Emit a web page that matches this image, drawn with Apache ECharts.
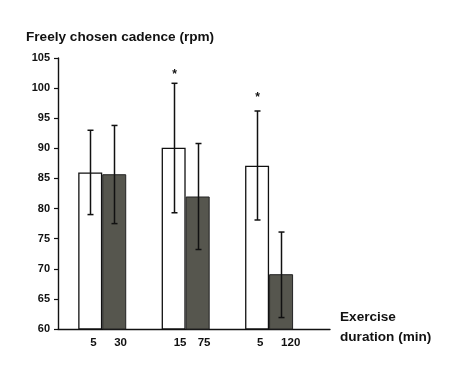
<!DOCTYPE html>
<html><head><meta charset="utf-8">
<script src="https://cdn.jsdelivr.net/npm/echarts@6/dist/echarts.min.js"></script>
<style>html,body{margin:0;padding:0;background:#fff}#c{width:474px;height:375px}</style>
</head><body><div id="c"></div>
<script>
const groups = [1, 2, 3];
const shortLabels = ["5", "15", "5"];
const longLabels = ["30", "75", "120"];
const shortMeans = [86.0, 90.1, 87.1];
const longMeans = [85.7, 82.0, 69.1];
const shortLow = [79.0, 79.3, 78.1];
const shortHigh = [93.0, 100.8, 96.2];
const longLow = [77.5, 73.2, 61.9];
const longHigh = [93.8, 90.8, 76.1];
const sigMark = ["", "*", "*"];
const sigLevel = [null, 102.7, 98.9];
const yTicks = {min: 60, max: 105, step: 5};

const FONT = "Liberation Sans";
const BW = 24;

function errSeries(low, high, off, marks, levels) {
  return {
    type: 'custom',
    clip: false,
    z: 5,
    data: groups.map((g, i) => [g, low[i], high[i], i]),
    encode: {x: 0, y: [1, 2]},
    renderItem: function (params, api) {
      const x = api.value(0), lo = api.value(1), hi = api.value(2), i = api.value(3);
      const pLo = api.coord([x, lo]), pHi = api.coord([x, hi]);
      const cx = Math.round(pLo[0] + off) + 0.5;
      const cap = 3;
      const st = {stroke: '#111', lineWidth: 1.5};
      const ch = [
        {type: 'line', shape: {x1: cx, y1: pLo[1], x2: cx, y2: pHi[1]}, style: st},
        {type: 'line', shape: {x1: cx - cap, y1: pLo[1], x2: cx + cap, y2: pLo[1]}, style: st},
        {type: 'line', shape: {x1: cx - cap, y1: pHi[1], x2: cx + cap, y2: pHi[1]}, style: st}
      ];
      if (marks && marks[i]) {
        const ps = api.coord([x, levels[i]]);
        ch.push({type: 'text', style: {x: cx, y: ps[1] + 3, text: marks[i], align: 'center', verticalAlign: 'middle',
          font: 'bold 12px "' + FONT + '"', fill: '#111'}});
      }
      return {type: 'group', children: ch};
    }
  };
}

const chart = echarts.init(document.getElementById('c'), null, {renderer: 'canvas'});
chart.setOption({
  backgroundColor: '#fff',
  animation: false,
  grid: {left: 58, top: 58, width: 272, height: 271},
  xAxis: {
    type: 'value', min: 0.47, max: 3.73,
    axisLine: {show: true, lineStyle: {color: '#111', width: 1.4}},
    axisTick: {show: false}, axisLabel: {show: false}, splitLine: {show: false}
  },
  yAxis: {
    type: 'value', min: yTicks.min, max: yTicks.max, interval: yTicks.step,
    axisLine: {show: true, lineStyle: {color: '#111', width: 1.4}},
    axisTick: {show: true, inside: false, length: 4, lineStyle: {color: '#111', width: 1.2}},
    axisLabel: {margin: 8, color: '#111', fontFamily: FONT, fontWeight: 'bold', fontSize: 11},
    splitLine: {show: false}
  },
  graphic: [
    {type: 'text', left: 26, top: 30, style: {text: 'Freely chosen cadence (rpm)', font: 'bold 13.6px "' + FONT + '"', fill: '#111'}},
    {type: 'text', left: 340, top: 307, style: {text: 'Exercise\nduration (min)', font: 'bold 13.6px "' + FONT + '"', fill: '#111', lineHeight: 20}}
  ],
  series: [
    {
      type: 'bar', barWidth: BW, barGap: '0%',
      data: groups.map((g, i) => [g, shortMeans[i]]),
      itemStyle: {color: '#fff', borderColor: '#111', borderWidth: 1.3},
      label: {show: true, position: 'bottom', distance: 0, formatter: p => shortLabels[p.dataIndex],
        color: '#111', fontFamily: FONT, fontWeight: 'bold', fontSize: 11.5},
      labelLayout: function () { return {y: 343, verticalAlign: 'middle'}; }
    },
    {
      type: 'bar', barWidth: BW, barGap: '0%',
      data: groups.map((g, i) => [g, longMeans[i]]),
      itemStyle: {color: '#56564e', borderColor: '#222', borderWidth: 1},
      label: {show: true, position: 'bottom', distance: 0, formatter: p => longLabels[p.dataIndex],
        color: '#111', fontFamily: FONT, fontWeight: 'bold', fontSize: 11.5},
      labelLayout: function () { return {y: 343, verticalAlign: 'middle'}; }
    },
    errSeries(shortLow, shortHigh, -BW / 2, sigMark, sigLevel),
    errSeries(longLow, longHigh, BW / 2, null, null)
  ]
});
</script></body></html>
